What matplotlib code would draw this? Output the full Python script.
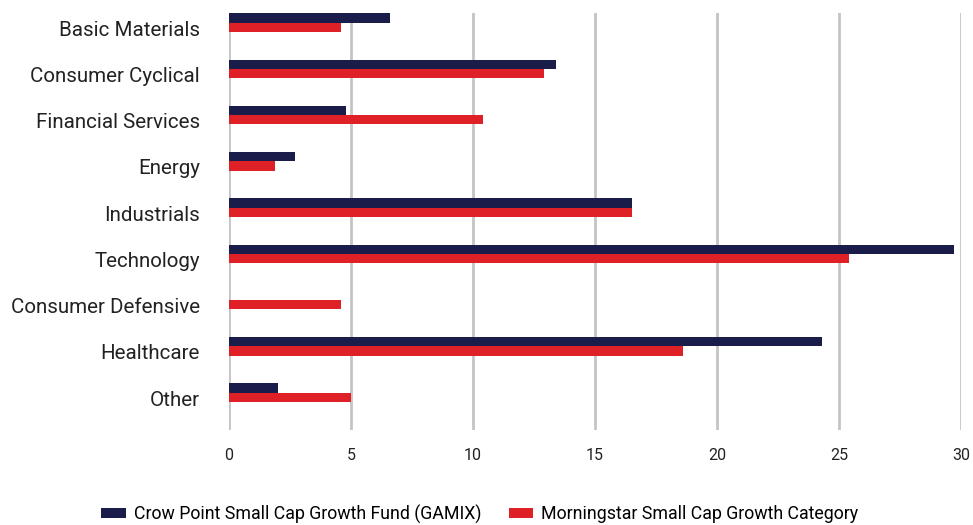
import numpy as np
import matplotlib
matplotlib.use("Agg")
import matplotlib.pyplot as plt
import matplotlib.transforms as mtransforms

plt.rcParams['font.family'] = ['Roboto', 'DejaVu Sans']

# sector weights (%)
sectors = ["Basic Materials", "Consumer Cyclical", "Financial Services", "Energy",
           "Industrials", "Technology", "Consumer Defensive", "Healthcare", "Other"]
fund = [6.6, 13.4, 4.8, 2.7, 16.5, 29.7, 0.0, 24.3, 2.0]
category = [4.6, 12.9, 10.4, 1.9, 16.5, 25.4, 4.6, 18.6, 5.0]
series_names = ["Crow Point Small Cap Growth Fund (GAMIX)",
                "Morningstar Small Cap Growth Category"]
xticks = [0, 5, 10, 15, 20, 25, 30]

NAVY = "#1a1c4a"
RED = "#e02027"

fig = plt.figure(figsize=(9.73, 5.25), dpi=100)
ax = fig.add_axes([229/973, 1 - 430/525, (961 - 229)/973, (430 - 13)/525])

y = np.arange(len(sectors))
h = 0.2
ax.barh(y - h/2, fund, height=h, color=NAVY, label=series_names[0])
ax.barh(y + h/2, category, height=h, color=RED, label=series_names[1])

ax.set_xlim(0, 30)
ax.set_ylim(len(sectors) - 1 + 0.81, -0.21)
ax.set_xticks(xticks)
ax.set_xticklabels([str(t) for t in xticks], fontsize=11.5, color="#222222")
ax.set_yticks(y)
ax.set_yticklabels(sectors, fontsize=14.8, color="#222222")
ax.tick_params(axis='both', length=0)
ax.tick_params(axis='x', pad=13)
ax.tick_params(axis='y', pad=21)
# labels sit a few pixels below the bar centres in the original
off = mtransforms.ScaledTranslation(0, -5.5/100, fig.dpi_scale_trans)
for lab in ax.get_yticklabels():
    lab.set_transform(lab.get_transform() + off)

for s in ax.spines.values():
    s.set_visible(False)
ax.grid(axis='x', color="#c4c4c4", linewidth=2)
ax.set_axisbelow(True)

fig.legend(loc='center', bbox_to_anchor=(480/973, 1 - 514/525), ncol=2, frameon=False,
           fontsize=12.8, handlelength=1.4, handleheight=0.56, columnspacing=1.5,
           handletextpad=0.45, borderpad=0, borderaxespad=0)

fig.savefig("out.png", dpi=100)
